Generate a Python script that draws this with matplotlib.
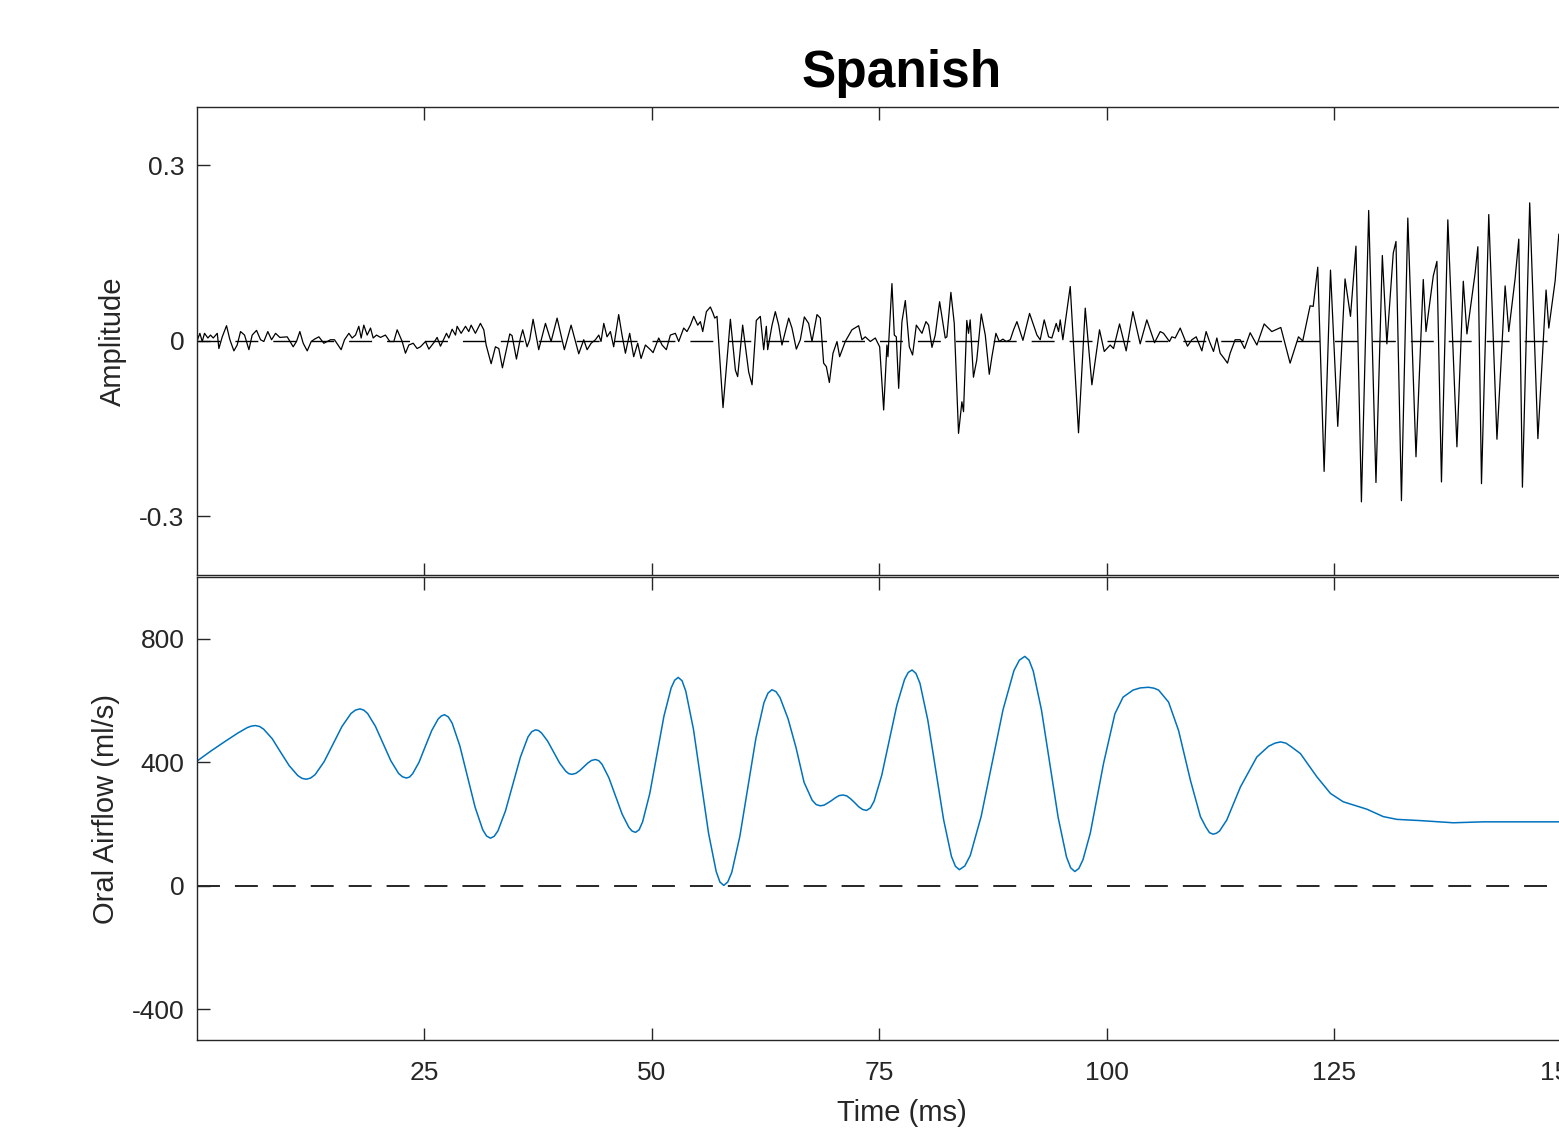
import matplotlib
matplotlib.use('Agg')
import matplotlib.pyplot as plt

plt.rcParams['font.family'] = ['Liberation Sans', 'DejaVu Sans']
plt.rcParams['axes.unicode_minus'] = False

# forma de onda (tempo em ms, amplitude)
t_wave = [0.0, 0.31, 0.57, 0.82, 1.19, 1.48, 1.78, 2.22, 2.40, 2.77, 3.24, 3.61, 4.05, 4.41, 4.78, 5.22,
          5.70, 6.06, 6.54, 6.98, 7.34, 7.78, 8.19, 8.63, 9.10, 9.91, 10.57, 10.93, 11.30, 11.67, 12.11,
          12.55, 12.91, 13.39, 13.94, 14.67, 15.11, 15.84, 16.21, 16.69, 17.05, 17.42, 17.78, 18.04,
          18.33, 18.70, 19.07, 19.36, 19.73, 20.16, 20.71, 21.19, 21.63, 22.00, 22.55, 22.91, 23.28,
          23.76, 24.19, 24.56, 25.11, 25.48, 26.03, 26.39, 26.76, 27.42, 27.68, 28.04, 28.41, 28.59,
          29.03, 29.51, 29.87, 30.13, 30.60, 31.15, 31.52, 31.78, 32.33, 32.80, 33.17, 33.57, 34.38,
          34.63, 35.11, 35.55, 35.80, 36.28, 36.57, 36.94, 37.56, 38.30, 38.92, 39.58, 40.38, 41.12,
          41.96, 42.51, 42.88, 43.32, 43.79, 44.16, 44.41, 44.71, 45.07, 45.44, 45.80, 46.35, 46.72,
          47.09, 47.56, 48.00, 48.44, 48.81, 49.29, 49.84, 50.13, 50.75, 51.12, 51.59, 52.03, 52.58,
          52.95, 53.50, 53.86, 54.23, 54.60, 55.04, 55.33, 55.59, 55.99, 56.43, 56.73, 56.91, 57.16,
          57.82, 58.63, 59.18, 59.43, 59.98, 60.64, 61.01, 61.48, 61.92, 62.29, 62.58, 62.73, 63.21,
          63.57, 63.94, 64.30, 65.04, 65.40, 65.88, 66.32, 66.76, 67.23, 67.60, 68.15, 68.52, 68.88,
          69.18, 69.51, 69.91, 70.35, 70.64, 71.26, 71.99, 72.73, 73.09, 73.46, 74.01, 74.56, 75.04,
          75.48, 75.84, 75.95, 76.39, 76.65, 76.87, 77.13, 77.49, 77.86, 78.30, 78.66, 79.07, 79.69,
          80.13, 80.42, 80.79, 81.15, 81.63, 82.25, 82.43, 82.87, 83.24, 83.71, 84.08, 84.26, 84.62,
          84.81, 84.99, 85.35, 85.71, 86.21, 86.65, 87.09, 87.38, 87.82, 88.19, 88.59, 88.96, 89.40,
          89.76, 90.13, 90.79, 91.52, 92.33, 92.69, 93.13, 93.61, 93.97, 94.45, 94.71, 94.89, 95.18,
          95.99, 96.90, 97.64, 98.37, 99.21, 99.73, 100.38, 100.75, 101.41, 102.14, 102.88, 103.68,
          104.41, 105.26, 105.88, 106.25, 106.90, 107.16, 107.53, 108.08, 108.88, 109.36, 109.84,
          110.46, 110.93, 111.30, 111.74, 112.11, 112.47, 112.91, 113.28, 113.57, 114.12, 114.67,
          115.15, 115.77, 116.51, 117.31, 118.15, 119.14, 120.16, 121.08, 121.55, 122.36, 122.7,
          123.2, 123.9, 124.6, 125.4, 126.2, 126.8, 127.4, 128.0, 128.8, 129.6, 130.3, 130.8, 131.5,
          131.8, 132.4, 133.1, 134.0, 134.8, 135.1, 135.9, 136.3, 136.8, 137.5, 138.5, 139.2, 139.6,
          140.5, 140.8, 141.2, 142.0, 142.9, 143.8, 144.2, 144.9, 145.3, 145.7, 146.5, 147.4, 148.3,
          148.6, 149.3, 149.7, 150.5]
amp = [0.0, 0.013, -0.001, 0.013, 0.005, 0.010, 0.005, 0.013, -0.013, 0.007, 0.026, 0.002, -0.017,
       -0.007, 0.016, 0.010, -0.015, 0.010, 0.018, 0.002, -0.001, 0.016, 0.002, 0.013, 0.006, 0.007,
       -0.010, -0.001, 0.016, -0.004, -0.017, -0.001, 0.003, 0.007, -0.004, 0.002, 0.002, -0.015,
       0.002, 0.013, 0.005, 0.010, 0.025, 0.005, 0.027, 0.010, 0.022, 0.005, 0.010, 0.006, 0.010,
       -0.001, -0.001, 0.019, -0.001, -0.021, -0.007, -0.004, -0.013, -0.010, -0.001, -0.014, -0.003,
       0.006, -0.009, 0.013, 0.005, 0.020, 0.010, 0.025, 0.013, 0.025, 0.016, 0.027, 0.013, 0.030,
       0.019, -0.007, -0.039, -0.010, -0.013, -0.046, 0.012, 0.009, -0.031, 0.005, 0.019, -0.010,
       0.002, 0.037, -0.015, 0.030, -0.001, 0.039, -0.015, 0.027, -0.022, 0.002, -0.015, -0.004,
       0.002, 0.010, -0.001, 0.030, 0.007, 0.016, -0.010, 0.045, 0.010, -0.021, 0.013, -0.027,
       -0.004, -0.030, -0.007, -0.015, -0.020, 0.005, -0.007, -0.015, 0.010, 0.013, -0.001, 0.022,
       0.016, 0.027, 0.042, 0.027, 0.033, 0.016, 0.050, 0.058, 0.047, 0.039, 0.042, -0.114, 0.037,
       -0.050, -0.061, 0.027, -0.053, -0.075, 0.035, 0.042, -0.015, 0.025, -0.015, 0.027, 0.050,
       0.027, -0.007, 0.039, 0.022, -0.014, 0.002, 0.041, 0.030, -0.001, 0.045, 0.039, -0.038,
       -0.044, -0.071, -0.021, -0.001, -0.027, -0.001, 0.019, 0.026, 0.002, 0.007, -0.001, 0.005,
       -0.010, -0.118, -0.007, -0.027, 0.098, 0.010, 0.007, -0.081, 0.033, 0.069, -0.010, -0.024,
       0.027, 0.013, 0.033, 0.027, -0.011, 0.010, 0.067, 0.005, 0.007, 0.083, 0.030, -0.158, -0.104,
       -0.121, 0.035, 0.013, 0.036, -0.062, -0.033, 0.046, 0.010, -0.057, -0.027, 0.013, -0.001,
       0.003, -0.001, 0.002, 0.019, 0.033, 0.001, 0.047, 0.010, 0.002, 0.036, 0.007, 0.005, 0.030,
       0.016, 0.036, 0.002, 0.093, -0.157, 0.056, -0.075, 0.019, -0.018, -0.007, -0.013, 0.029,
       -0.017, 0.050, -0.005, 0.036, -0.003, 0.016, 0.013, -0.001, 0.007, 0.005, 0.022, -0.009,
       0.002, 0.007, -0.017, 0.016, -0.001, -0.018, 0.005, -0.021, -0.030, -0.038, -0.021, 0.002,
       0.002, -0.013, 0.014, -0.007, 0.029, 0.016, 0.023, -0.038, 0.007, 0.0, 0.060, 0.059, 0.126,
       -0.223, 0.121, -0.146, 0.106, 0.042, 0.162, -0.275, 0.223, -0.242, 0.146, -0.005, 0.150,
       0.170, -0.273, 0.210, -0.198, 0.105, 0.016, 0.111, 0.136, -0.241, 0.207, -0.181, 0.102,
       0.012, 0.116, 0.161, -0.244, 0.216, -0.168, 0.094, 0.016, 0.107, 0.174, -0.250, 0.236,
       -0.167, 0.087, 0.022, 0.103, 0.182, 0.20]

# fluxo de ar oral (tempo em ms, ml/s)
t_flow = [0.0, 1.5, 3.0, 4.5, 5.5, 5.95, 6.4, 6.87, 7.33, 8.27, 9.2, 10.13, 11.07, 11.53, 12.0, 12.49,
          12.98, 13.97, 14.95, 15.93, 16.92, 17.41, 17.9, 18.33, 18.75, 19.6, 20.45, 21.3, 22.15, 22.58,
          23.0, 23.35, 23.7, 24.4, 25.1, 25.8, 26.5, 26.85, 27.2, 27.62, 28.04, 28.88, 29.73, 30.57,
          31.41, 31.83, 32.25, 32.66, 33.08, 33.9, 34.73, 35.55, 36.38, 36.79, 37.2, 37.53, 37.87,
          38.53, 39.2, 39.87, 40.53, 40.87, 41.2, 41.63, 42.07, 42.5, 42.93, 43.37, 43.8, 44.17, 44.53,
          45.27, 46.0, 46.73, 47.47, 47.83, 48.2, 48.59, 48.98, 49.77, 50.55, 51.33, 52.12, 52.51,
          52.9, 53.32, 53.73, 54.57, 55.4, 56.23, 57.07, 57.48, 57.9, 58.34, 58.78, 59.67, 60.55,
          61.43, 62.32, 62.76, 63.2, 63.64, 64.08, 64.97, 65.85, 66.73, 67.62, 68.06, 68.5, 68.92,
          69.33, 69.75, 70.17, 70.58, 71.0, 71.43, 71.87, 72.3, 72.73, 73.17, 73.6, 74.02, 74.43,
          75.27, 76.1, 76.93, 77.77, 78.18, 78.6, 79.03, 79.47, 80.33, 81.2, 82.07, 82.93, 83.37,
          83.8, 84.4, 85.0, 86.2, 87.4, 88.6, 89.8, 90.4, 91.0, 91.46, 91.92, 92.83, 93.75, 94.67,
          95.58, 96.04, 96.5, 96.94, 97.4, 98.2, 98.9, 99.65, 100.9, 101.8, 102.9, 103.7, 104.6,
          105.2, 105.7, 106.8, 107.9, 109.2, 110.3, 110.9, 111.3, 111.7, 112.05, 112.4, 113.2, 114.7,
          116.5, 117.8, 118.5, 119.1, 119.7, 120.3, 121.3, 123.1, 124.6, 126.0, 128.6, 130.4, 131.9,
          134.5, 138.1, 141.4, 145.7, 150.5]
flow = [404, 436, 466, 495, 512, 517, 519, 516, 507, 476, 432, 389, 357, 348, 345, 349,
        360, 402, 459, 516, 558, 569, 573, 569, 558, 517, 461, 405, 364, 353,
        349, 352, 363, 400, 452, 503, 540, 550, 554, 547, 527, 454, 354, 254,
        181, 161, 154, 160, 178, 242, 330, 417, 482, 499, 505, 503, 495,
        469, 433, 397, 371, 363, 361, 364, 373, 385, 397, 406, 409, 405, 393,
        350, 291, 232, 189, 177, 173, 181, 207, 299, 424, 550, 641, 666,
        675, 664, 630, 507, 338, 170, 46, 12, 1, 12, 43, 160, 318,
        477, 593, 624, 635, 629, 610, 541, 447, 335, 277, 263, 259, 261,
        268, 276, 285, 292, 294, 291, 281, 269, 256, 247, 244, 252, 274,
        358, 471, 585, 668, 691, 699, 688, 656, 537, 375, 214, 95, 63,
        52, 64, 98, 225, 398, 570, 697, 731, 743, 731, 696, 569, 395, 220,
        93, 58, 46, 56, 85, 171, 280, 396, 557, 611, 634, 641, 643,
        640, 634, 595, 503, 342, 224, 190, 172, 167, 170, 177, 213, 320,
        417, 452, 462, 466, 462, 450, 428, 353, 299, 272, 248, 224, 215,
        211, 204, 207, 207, 207]

xticks = [25, 50, 75, 100, 125, 150]
amp_ticks = [-0.3, 0, 0.3]
amp_ticklabels = ['-0.3', '0', '0.3']
flow_ticks = [-400, 0, 400, 800]

fig = plt.figure(figsize=(15.59, 11.3), dpi=100)
ax1 = fig.add_axes([0.1264, 0.4912, 0.9044, 0.4142])
ax2 = fig.add_axes([0.1264, 0.0796, 0.9044, 0.4097])

cor_eixo = '#262626'
for ax in (ax1, ax2):
    ax.set_xlim(0, 155)
    ax.set_xticks(xticks)
    ax.tick_params(direction='in', length=9, width=1, colors=cor_eixo, labelsize=19,
                   top=True, right=True, pad=9)
    ax.tick_params(axis='x', pad=15)
    for s in ax.spines.values():
        s.set_color(cor_eixo)
        s.set_linewidth(1)

# painel de cima
ax1.axhline(0, color='black', lw=1, dashes=(16.5, 10.8))
ax1.plot(t_wave, amp, color='black', lw=0.9)
ax1.set_ylim(-0.4, 0.4)
ax1.set_yticks(amp_ticks)
ax1.set_yticklabels(amp_ticklabels)
ax1.set_xticklabels([])
ax1.set_ylabel('Amplitude', fontsize=21, color=cor_eixo)
ax1.yaxis.set_label_coords(-0.0496, 0.5)
ax1.set_title('Spanish', fontsize=37, fontweight='bold', pad=14)

# painel de baixo
ax2.axhline(0, color=cor_eixo, lw=1.4, dashes=(11.8, 7.7))
ax2.plot(t_flow, flow, color='#0072BD', lw=1.1)
ax2.set_ylim(-500, 1000)
ax2.set_yticks(flow_ticks)
ax2.set_xlabel('Time (ms)', fontsize=21, color=cor_eixo, labelpad=10)
ax2.set_ylabel('Oral Airflow (ml/s)', fontsize=21, color=cor_eixo)
ax2.yaxis.set_label_coords(-0.0546, 0.5)

fig.savefig('out.png', dpi=100)
